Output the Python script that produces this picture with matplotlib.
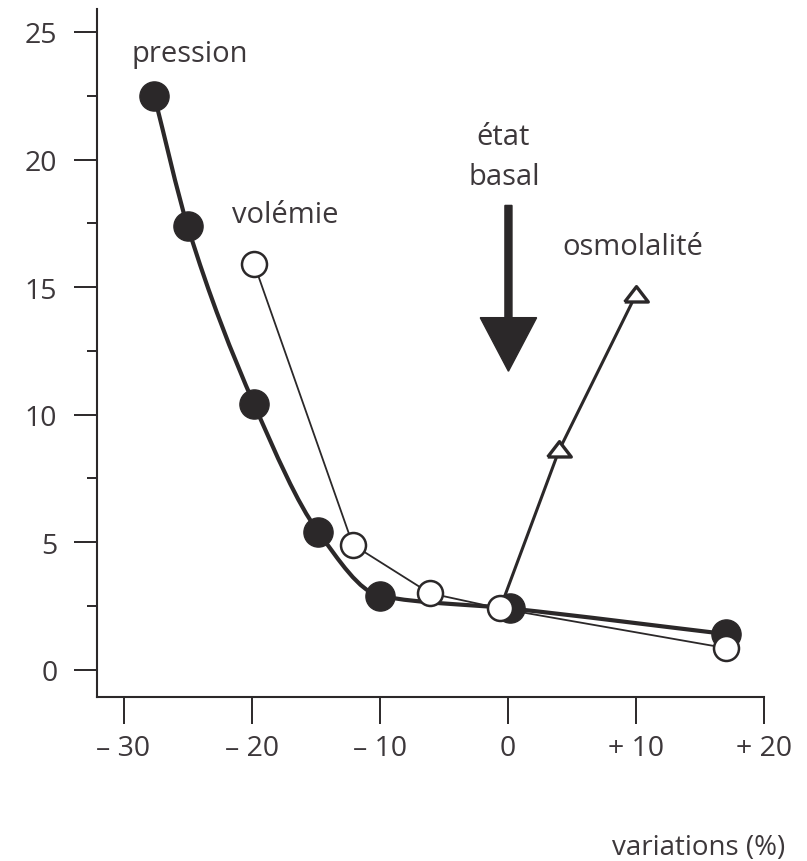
import numpy as np
import matplotlib
matplotlib.use("Agg")
import matplotlib.pyplot as plt
from matplotlib.path import Path
from matplotlib.patches import PathPatch, FancyArrow
from matplotlib.markers import MarkerStyle

# --- data -------------------------------------------------------------
pression_x = [-27.6, -25.0, -19.8, -14.8, -10.0, 0.2, 17.0]
pression_y = [22.5, 17.4, 10.4, 5.4, 2.9, 2.4, 1.4]

volemie_x = [-19.8, -12.1, -6.1, -0.6, 17.0]
volemie_y = [15.9, 4.9, 3.0, 2.4, 0.85]

osmo_x = [-0.6, 4.0, 10.0]
osmo_y = [2.4, 8.6, 14.7]

xtick_values = [-30, -20, -10, 0, 10, 20]
xtick_labels = ["\u2013 30", "\u2013 20", "\u2013 10", "0", "+ 10", "+ 20"]
ytick_values = [0, 5, 10, 15, 20, 25]
ytick_labels = ["0", "5", "10", "15", "20", "25"]

# --- style ------------------------------------------------------------
INK = "#2b2829"
TEXT = "#3d383b"
plt.rcParams["font.family"] = ["Open Sans", "DejaVu Sans"]

W, H = 807, 862
fig = plt.figure(figsize=(W / 100, H / 100), dpi=100)
ax = fig.add_axes([97 / W, 1 - 698 / H, (764 - 97) / W, (698 - 10) / H])
ax.set_xlim(-32.07, 20.0)
ax.set_ylim(-1.07, 25.9)

for side in ("top", "right"):
    ax.spines[side].set_visible(False)
for side in ("left", "bottom"):
    ax.spines[side].set_color(INK)
    ax.spines[side].set_linewidth(1.5)

ax.set_xticks(xtick_values)
ax.set_xticklabels(xtick_labels)
ax.set_yticks(ytick_values)
ax.set_yticklabels(ytick_labels)
ax.set_yticks(np.array(ytick_values[:-1]) + 2.5, minor=True)
ax.tick_params(axis="x", which="major", length=19.5, width=1.4, color=INK,
               pad=7, labelsize=20.5, labelcolor=TEXT)
ax.tick_params(axis="y", which="major", length=16.5, width=1.4, color=INK,
               pad=12, labelsize=20.5, labelcolor=TEXT)
ax.tick_params(axis="y", which="minor", length=7, width=1.4, color=INK)


def hermite_path(xs, ys):
    """Monotone cubic (Fritsch-Carlson) curve through the points as Bezier segments."""
    xs = np.asarray(xs, float)
    ys = np.asarray(ys, float)
    h = np.diff(xs)
    d = np.diff(ys) / h
    m = np.zeros_like(xs)
    m[1:-1] = np.where(d[:-1] * d[1:] > 0,
                       3 * (h[:-1] + h[1:]) /
                       ((2 * h[1:] + h[:-1]) / d[:-1] + (h[1:] + 2 * h[:-1]) / d[1:]),
                       0.0)
    m[0] = d[0]
    m[-1] = d[-1]
    verts = [(xs[0], ys[0])]
    codes = [Path.MOVETO]
    for k in range(len(xs) - 1):
        verts += [(xs[k] + h[k] / 3, ys[k] + m[k] * h[k] / 3),
                  (xs[k + 1] - h[k] / 3, ys[k + 1] - m[k + 1] * h[k] / 3),
                  (xs[k + 1], ys[k + 1])]
        codes += [Path.CURVE4] * 3
    return Path(verts, codes)


# curves
ax.add_patch(PathPatch(hermite_path(pression_x, pression_y), fill=False,
                       lw=3.0, edgecolor=INK, capstyle="round", zorder=2))
ax.plot(volemie_x, volemie_y, color=INK, lw=1.3, zorder=2)
ax.plot(osmo_x, osmo_y, color=INK, lw=2.2, zorder=2)

# markers
tri = MarkerStyle([(-1.0, -0.55), (1.0, -0.55), (0.0, 0.75), (-1.0, -0.55)])
ax.plot(osmo_x[1:], osmo_y[1:], linestyle="none", marker=tri, markersize=17,
        markerfacecolor="white", markeredgecolor=INK, markeredgewidth=2.4, zorder=4)
ax.plot(pression_x, pression_y, linestyle="none", marker="o", markersize=21,
        markerfacecolor=INK, markeredgecolor=INK, zorder=5)
ax.plot(volemie_x, volemie_y, linestyle="none", marker="o", markersize=18,
        markerfacecolor="white", markeredgecolor=INK, markeredgewidth=1.8, zorder=6)

# basal-state arrow
ax.add_patch(FancyArrow(0.05, 18.2, 0.0, -6.5, width=0.55, head_width=4.4,
                        head_length=2.1, length_includes_head=True,
                        color=INK, zorder=3))

# labels
lab = dict(fontsize=21, color=TEXT, va="baseline")
ax.text(-29.4, 23.87, "pression", ha="left", **lab)
ax.text(-21.54, 17.56, "volémie", ha="left", **lab)
ax.text(4.28, 16.3, "osmolalité", ha="left", **lab)
ax.text(-0.4, 20.6, "état", ha="center", **lab)
ax.text(-0.3, 19.05, "basal", ha="center", **lab)
fig.text(785 / W, 1 - 855 / H, "variations (%)", ha="right", va="baseline",
         fontsize=20, color=TEXT)

fig.savefig("out.png", dpi=100, facecolor="white")
